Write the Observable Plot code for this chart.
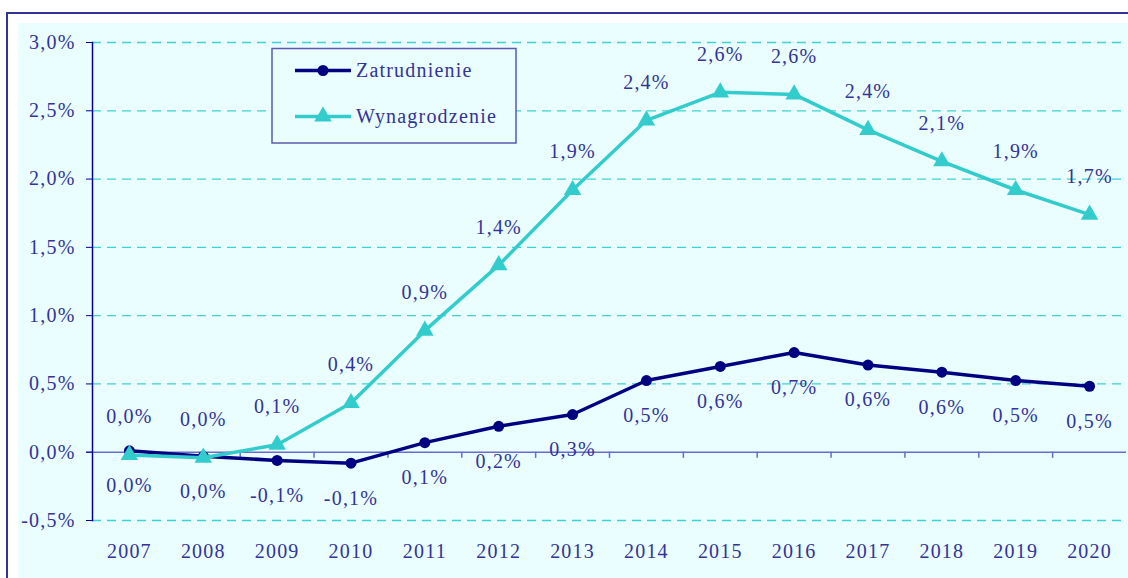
<!DOCTYPE html>
<html>
<head>
<meta charset="utf-8">
<script src="https://cdn.jsdelivr.net/npm/d3@7"></script>
<script src="https://cdn.jsdelivr.net/npm/@observablehq/plot@0.6"></script>
<style>
  html, body { margin: 0; padding: 0; background: #ffffff; }
  #wrap { position: relative; width: 1128px; height: 578px; overflow: hidden; background: #ffffff; }
  #frame { position: absolute; left: 6px; top: 12px; width: 1300px; height: 800px; border: 2px solid #333399; background: #ffffff; }
  #inner { position: absolute; left: 18px; top: 23px; width: 1200px; height: 700px; background: #eafeff; }
  #chart { position: absolute; left: 0; top: 0; }
  #chart svg text { letter-spacing: 1.2px; }
  #legend { position: absolute; left: 0; top: 0; }
</style>
</head>
<body>
<div id="wrap">
  <div id="frame"></div>
  <div id="inner"></div>
  <div id="chart"></div>
  <div id="legend"></div>
</div>
<script>
const years = [2007, 2008, 2009, 2010, 2011, 2012, 2013, 2014, 2015, 2016, 2017, 2018, 2019, 2020];
const zatrudnienie = [0.01, -0.03, -0.06, -0.08, 0.07, 0.19, 0.276, 0.525, 0.628, 0.73, 0.638, 0.586, 0.525, 0.483];
const wynagrodzenie = [-0.02, -0.04, 0.055, 0.36, 0.89, 1.37, 1.92, 2.43, 2.635, 2.62, 2.36, 2.13, 1.92, 1.74];
const yTicks = [-0.5, 0, 0.5, 1.0, 1.5, 2.0, 2.5, 3.0];
const seriesNames = ["Zatrudnienie", "Wynagrodzenie"];

const NAVY = "#000080";
const CYAN = "#33cccc";
const TEXT = "#333399";
const FONT = "'Liberation Serif', 'Times New Roman', serif";

const fmtPct = d => {
  let v = Math.round(d * 10) / 10;
  if (v === 0) v = 0;
  return v.toFixed(1).replace(".", ",") + "%";
};

const zat = years.map((y, i) => ({year: y, value: zatrudnienie[i]}));
const wyn = years.map((y, i) => ({year: y, value: wynagrodzenie[i]}));
const boundaries = years.map(y => y - 0.5).slice(1);

const chart = Plot.plot({
  width: 1128,
  height: 578,
  marginLeft: 92,
  marginRight: 2,
  marginTop: 42,
  marginBottom: 58,
  style: {fontFamily: FONT, fontSize: "20px", color: TEXT, background: "transparent", overflow: "visible"},
  x: {domain: [2006.5, 2020.5]},
  y: {domain: [-0.5, 3.0]},
  marks: [
    Plot.ruleY(yTicks.filter(d => d !== 0), {stroke: "#3ed2d2", strokeWidth: 1.3, strokeDasharray: "9,6"}),
    Plot.ruleY([0], {stroke: "#6b6bcc", strokeWidth: 1.5, x1: 2006.42, x2: 2020.5}),
    Plot.ruleX(boundaries, {y1: 0, y2: -0.045, stroke: "#6b6bcc", strokeWidth: 1.5}),
    Plot.frame({anchor: "left", stroke: "#000099", strokeWidth: 1.5}),
    Plot.axisY({ticks: yTicks, tickFormat: d => d.toFixed(1).replace(".", ",") + "%", tickSize: 6, tickPadding: 11, stroke: "#000099", fill: TEXT, label: null}),
    Plot.axisX({ticks: years, tickFormat: d => String(d), tickSize: 0, tickPadding: 23, fill: TEXT, label: null}),
    Plot.line(zat, {x: "year", y: "value", stroke: NAVY, strokeWidth: 3.5}),
    Plot.dot(zat, {x: "year", y: "value", r: 5.5, fill: NAVY, symbol: "circle"}),
    Plot.line(wyn, {x: "year", y: "value", stroke: CYAN, strokeWidth: 3.5}),
    Plot.dot(wyn, {x: "year", y: "value", r: 6.5, fill: CYAN, symbol: "triangle"}),
    Plot.text(zat, {x: "year", y: "value", text: d => fmtPct(d.value), dy: 35, fill: TEXT, fontSize: 20}),
    Plot.text(wyn, {x: "year", y: "value", text: d => fmtPct(d.value), dy: -38, fill: TEXT, fontSize: 20})
  ]
});
document.getElementById("chart").appendChild(chart);

// Legend
const lg = d3.select("#legend").append("svg")
  .attr("width", 1128).attr("height", 578)
  .style("font-family", FONT).style("font-size", "20px");
lg.append("rect").attr("x", 272).attr("y", 48.5).attr("width", 244).attr("height", 94.5)
  .attr("fill", "#eafeff").attr("stroke", "#5a5ab0").attr("stroke-width", 1.5);
const entries = [
  {name: seriesNames[0], color: NAVY, sym: d3.symbolCircle, size: Math.PI * 5.5 * 5.5, cy: 70.5},
  {name: seriesNames[1], color: CYAN, sym: d3.symbolTriangle, size: Math.PI * 6.5 * 6.5, cy: 116.5}
];
entries.forEach(e => {
  lg.append("line").attr("x1", 295).attr("x2", 351).attr("y1", e.cy).attr("y2", e.cy)
    .attr("stroke", e.color).attr("stroke-width", 3.5);
  lg.append("path").attr("d", d3.symbol(e.sym, e.size)()).attr("transform", `translate(323,${e.cy})`).attr("fill", e.color);
  lg.append("text").attr("x", 356).attr("y", e.cy + 6.5).attr("fill", TEXT)
    .style("letter-spacing", "1.2px").text(e.name);
});
</script>
</body>
</html>
